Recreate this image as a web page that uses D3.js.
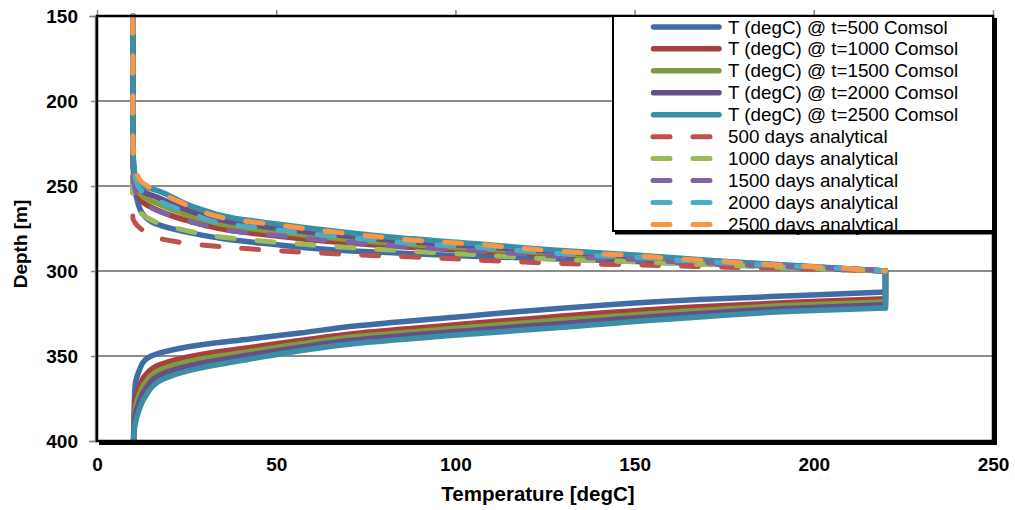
<!DOCTYPE html>
<html><head><meta charset="utf-8">
<script src="https://cdn.jsdelivr.net/npm/d3@7"></script>
<style>
body{margin:0;background:#fff}
svg{display:block}
text{font-family:"Liberation Sans",Arial,sans-serif}
</style>
</head><body>
<svg id="chart" width="1015" height="510"></svg>
<script>
// ---------------- data ----------------
const xTicks = [0, 50, 100, 150, 200, 250];
const yTicks = [150, 200, 250, 300, 350, 400];
const xTitle = "Temperature [degC]";
const yTitle = "Depth [m]";

const comsolLabels = ["T (degC) @ t=500 Comsol", "T (degC) @ t=1000 Comsol", "T (degC) @ t=1500 Comsol", "T (degC) @ t=2000 Comsol", "T (degC) @ t=2500 Comsol"];
const analyticalLabels = ["500 days analytical", "1000 days analytical", "1500 days analytical", "2000 days analytical", "2500 days analytical"];
const comsolColors = ["#3f6ca5", "#a5403d", "#7f9c3f", "#664e88", "#3a8ea5"];
const analyticalColors = ["#c0504d", "#9bbb59", "#8064a2", "#4bacc6", "#f79646"];

// Comsol, upper branch (temperature degC -> depth m per series)
const comsolUpperTemp = [10, 10, 10.3, 11.2, 12.8, 16.5, 27.1, 37.9, 49.1, 60, 71.1, 82.6, 104.9, 127.2, 150.1, 172.4, 194.8, 220];
const comsolUpper500  = [150, 235.0, 245.0, 258.2, 266.5, 272.3, 278.0, 281.8, 284.3, 286.6, 288.2, 289.3, 291.3, 292.8, 294.4, 295.9, 297.6, 300];
const comsolUpper1000 = [150, 229.9, 242.6, 253.3, 259.6, 263.9, 271.4, 276.3, 279.2, 281.7, 283.7, 285.5, 288.2, 290.6, 292.8, 295.1, 297.3, 300];
const comsolUpper1500 = [150, 227.5, 241.5, 250.9, 256.3, 260.0, 268.3, 273.7, 276.7, 279.4, 281.6, 283.7, 286.7, 289.6, 292.0, 294.7, 297.1, 300];
const comsolUpper2000 = [150, 225.3, 240.5, 248.8, 253.3, 256.4, 265.5, 271.4, 274.5, 277.3, 279.7, 282.0, 285.3, 288.6, 291.4, 294.3, 297.0, 300];
const comsolUpper2500 = [150, 222.9, 239.4, 246.5, 250.0, 252.4, 262.4, 268.8, 272.1, 275.0, 277.6, 280.2, 283.8, 287.6, 290.6, 293.9, 296.8, 300];

// Comsol, lower branch (starts at bottom of the 220 degC section)
const comsolLowerTemp = [220, 196, 168, 126, 98.5, 72, 56.6, 42.7, 28.7, 17.6, 13.4, 11.7, 10.6, 10.2];
const comsolLower500  = [312.4, 314.4, 316.8, 322.5, 327.4, 332.4, 336.5, 340.0, 343.5, 348.2, 352.4, 359.0, 368.2, 400];
const comsolLower1000 = [316.3, 318.2, 321.1, 327.2, 331.9, 336.7, 340.9, 345.0, 349.2, 355.0, 361.5, 368.7, 377.6, 400];
const comsolLower1500 = [318.2, 320.0, 323.2, 329.4, 334.0, 338.7, 342.9, 347.3, 351.9, 358.3, 365.9, 373.3, 382.1, 400];
const comsolLower2000 = [319.9, 321.7, 325.0, 331.5, 335.9, 340.6, 344.8, 349.4, 354.4, 361.2, 369.8, 377.4, 386.1, 400];
const comsolLower2500 = [321.8, 323.5, 327.1, 333.7, 338.0, 342.6, 346.9, 351.8, 357.1, 364.5, 374.1, 382.0, 390.6, 400];

// Analytical solutions
const analyticalTemp = [10, 10, 10.6, 12, 14, 16.5, 21.8, 27.1, 37.9, 49.1, 60, 71.1, 82.6, 93.5, 104.9, 116, 127.2, 138.5, 150.1, 161.3, 172.4, 183.6, 194.8, 208, 220];
const analytical500  = [150, 268.8, 271.5, 274.8, 277.7, 280.3, 282.7, 284.2, 286.3, 287.9, 289.2, 290.3, 291.3, 292.2, 293.4, 294.4, 295.4, 296.0, 296.4, 297.0, 297.6, 298.2, 298.7, 299.4, 300];
const analytical1000 = [150, 253.7, 260.3, 265.5, 268.6, 271.3, 274.6, 277.2, 280.8, 282.9, 284.7, 286.3, 287.8, 289.1, 290.3, 291.7, 293.0, 293.9, 294.6, 295.6, 296.4, 297.4, 298.1, 299.1, 300];
const analytical1500 = [150, 241.7, 251.5, 258.1, 261.4, 264.1, 268.2, 271.6, 276.5, 278.9, 281.2, 283.2, 285.1, 286.6, 287.9, 289.6, 291.1, 292.3, 293.2, 294.5, 295.5, 296.8, 297.6, 298.8, 300];
const analytical2000 = [150, 231.6, 244.0, 251.9, 255.3, 258.1, 262.9, 266.9, 272.9, 275.5, 278.2, 280.5, 282.8, 284.5, 285.9, 287.8, 289.5, 290.9, 291.9, 293.6, 294.8, 296.3, 297.2, 298.6, 300];
const analytical2500 = [150, 222.9, 237.6, 246.5, 250.0, 252.9, 258.2, 262.9, 269.7, 272.6, 275.6, 278.2, 280.8, 282.7, 284.1, 286.2, 288.1, 289.7, 290.9, 292.8, 294.1, 295.8, 296.9, 298.4, 300];

const comsolUpper = [comsolUpper500, comsolUpper1000, comsolUpper1500, comsolUpper2000, comsolUpper2500];
const comsolLower = [comsolLower500, comsolLower1000, comsolLower1500, comsolLower2000, comsolLower2500];
const analytical = [analytical500, analytical1000, analytical1500, analytical2000, analytical2500];

// ---------------- drawing ----------------
const svg = d3.select("#chart");
const pL = 97, pR = 993, pT = 16, pB = 441;
const x = d3.scaleLinear().domain([0, 250]).range([pL, pR]);
const y = d3.scaleLinear().domain([150, 400]).range([pT, pB]);

svg.append("rect").attr("width", 1015).attr("height", 510).attr("fill", "#fff");

// gridlines
svg.append("g").selectAll("line").data(yTicks.slice(1, -1)).join("line")
  .attr("x1", pL).attr("x2", pR)
  .attr("y1", d => y(d)).attr("y2", d => y(d))
  .attr("stroke", "#8c8c8c").attr("stroke-width", 2);

const line = d3.line().x(d => x(d[0])).y(d => y(d[1])).curve(d3.curveMonotoneY);
const straight = d3.line().x(d => x(d[0])).y(d => y(d[1]));

// Comsol series
const gc = svg.append("g").attr("fill", "none").attr("stroke-linecap", "round").attr("stroke-linejoin", "round");
comsolUpper.forEach((dep, i) => {
  const col = comsolColors[i];
  const up = comsolUpperTemp.map((t, k) => [t, dep[k]]);
  const low = comsolLowerTemp.map((t, k) => [t, comsolLower[i][k]]);
  const g = gc.append("g").attr("stroke", col).attr("stroke-width", 5.5);
  g.append("path").attr("d", line(up));
  g.append("path").attr("d", straight([up[up.length - 1], low[0]]));
  g.append("path").attr("d", line(low));
});

// Analytical series
const ga = svg.append("g").attr("fill", "none").attr("stroke-linecap", "round").attr("stroke-linejoin", "round");
analytical.forEach((dep, i) => {
  ga.append("path")
    .attr("d", line(analyticalTemp.map((t, k) => [t, dep[k]])))
    .attr("stroke", analyticalColors[i]).attr("stroke-width", 5)
    .attr("stroke-dasharray", "17,23");
});

// axes
const fontFam = '"Liberation Sans", Arial, sans-serif';
const axTop = svg.append("g").attr("transform", `translate(0,${pT})`)
  .call(d3.axisTop(x).tickValues(xTicks).tickSize(6).tickFormat(""));
axTop.select(".domain").remove();
axTop.selectAll("line").attr("stroke", "#868686").attr("stroke-width", 1.5);

const axBottom = svg.append("g").attr("transform", `translate(0,${pB})`)
  .call(d3.axisBottom(x).tickValues(xTicks).tickSize(0).tickPadding(17).tickFormat(d3.format("d")));
axBottom.select(".domain").remove();
axBottom.selectAll("text").attr("font-family", fontFam).attr("font-size", 19).attr("font-weight", "bold").attr("fill", "#000");

const axLeft = svg.append("g").attr("transform", `translate(${pL},0)`)
  .call(d3.axisLeft(y).tickValues(yTicks).tickSize(6).tickPadding(13).tickFormat(d3.format("d")));
axLeft.select(".domain").attr("stroke", "#868686").attr("stroke-width", 1.5).attr("transform", "translate(-2,0)");
axLeft.selectAll("line").attr("stroke", "#868686").attr("stroke-width", 1.5);
axLeft.selectAll("text").attr("font-family", fontFam).attr("font-size", 19).attr("font-weight", "bold").attr("fill", "#000");

// plot-area frame with shadow
svg.append("line").attr("x1", pL + 2).attr("x2", pR + 3).attr("y1", pB + 2.5).attr("y2", pB + 2.5)
  .attr("stroke", "#000").attr("stroke-width", 3);
svg.append("line").attr("x1", pR + 2.5).attr("x2", pR + 2.5).attr("y1", pT + 2).attr("y2", pB + 4)
  .attr("stroke", "#000").attr("stroke-width", 3);
svg.append("rect").attr("x", pL).attr("y", pT).attr("width", pR - pL).attr("height", pB - pT)
  .attr("fill", "none").attr("stroke", "#000").attr("stroke-width", 2.5);

// axis titles
svg.append("text").attr("x", 538).attr("y", 501).attr("text-anchor", "middle")
  .attr("font-size", 20.5).attr("font-weight", "bold").text(xTitle);
svg.append("text").attr("transform", "translate(27,244) rotate(-90)").attr("text-anchor", "middle")
  .attr("font-size", 19).attr("font-weight", "bold").text(yTitle);

// legend
const lg = svg.append("g");
const lx0 = 613, ly0 = 16, lx1 = 993, ly1 = 231;
lg.append("line").attr("x1", lx0 + 2).attr("x2", lx1 + 3).attr("y1", ly1 + 2).attr("y2", ly1 + 2).attr("stroke", "#000").attr("stroke-width", 3);
lg.append("line").attr("x1", lx1 + 2).attr("x2", lx1 + 2).attr("y1", ly0 + 2).attr("y2", ly1 + 3).attr("stroke", "#000").attr("stroke-width", 3);
lg.append("rect").attr("x", lx0).attr("y", ly0).attr("width", lx1 - lx0).attr("height", ly1 - ly0)
  .attr("fill", "#fff").attr("stroke", "#000").attr("stroke-width", 2);

const entries = comsolLabels.map((l, i) => ({label: l, color: comsolColors[i], dashed: false}))
  .concat(analyticalLabels.map((l, i) => ({label: l, color: analyticalColors[i], dashed: true})));
const rowY = i => 26.9 + i * 21.95;
entries.forEach((e, i) => {
  const yy = rowY(i);
  const ln = lg.append("line").attr("y1", yy).attr("y2", yy)
    .attr("stroke", e.color).attr("stroke-linecap", "round");
  if (e.dashed) {
    ln.attr("x1", 653).attr("x2", 711).attr("stroke-width", 5).attr("stroke-dasharray", "17,23");
  } else {
    ln.attr("x1", 653.5).attr("x2", 719).attr("stroke-width", 5.5);
  }
  lg.append("text").attr("x", 728).attr("y", yy + 6.6).attr("font-size", 18.8).attr("fill", "#000").text(e.label);
});
</script>
</body></html>
